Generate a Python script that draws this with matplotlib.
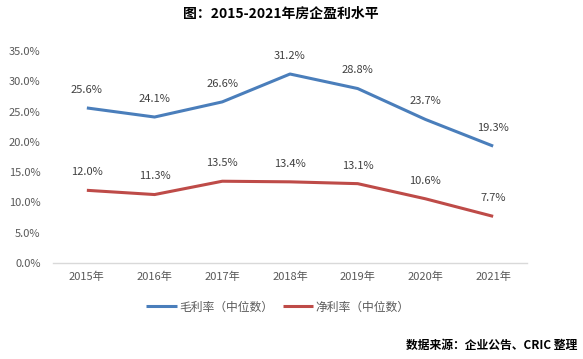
import matplotlib
matplotlib.use('Agg')
import matplotlib.pyplot as plt

plt.rcParams['font.family'] = ['Noto Sans CJK SC', 'DejaVu Sans']

years = ['2015年', '2016年', '2017年', '2018年', '2019年', '2020年', '2021年']
gross = [25.6, 24.1, 26.6, 31.2, 28.8, 23.7, 19.3]  # 毛利率（中位数）
net = [12.0, 11.3, 13.5, 13.4, 13.1, 10.6, 7.7]     # 净利率（中位数）

fig = plt.figure(figsize=(5.83, 3.59), dpi=100)
ax = fig.add_axes([53 / 583, 1 - 263 / 359, 474 / 583, 212 / 359])

x = list(range(len(years)))
ax.plot(x, gross, color='#4A7EBB', lw=2.2, label='毛利率（中位数）', solid_capstyle='butt')
ax.plot(x, net, color='#BE4B48', lw=2.2, label='净利率（中位数）', solid_capstyle='butt')

for xi, v in zip(x, gross):
    ax.annotate(f'{v:.1f}%', (xi, v), xytext=(0, 13), textcoords='offset points',
                ha='center', va='center', fontsize=8, color='#404040')
for xi, v in zip(x, net):
    ax.annotate(f'{v:.1f}%', (xi, v), xytext=(0, 13), textcoords='offset points',
                ha='center', va='center', fontsize=8, color='#404040')

ax.set_xlim(-0.5, 6.5)
ax.set_ylim(0, 35)
ax.set_yticks([0, 5, 10, 15, 20, 25, 30, 35])
ax.set_yticklabels([f'{t:.1f}%' for t in [0, 5, 10, 15, 20, 25, 30, 35]])
ax.set_xticks(x)
ax.set_xticklabels(years)
ax.tick_params(length=0, labelsize=8, colors='#595959')
ax.tick_params(axis='y', pad=9)
ax.tick_params(axis='x', pad=6)
for s in ['top', 'right', 'left']:
    ax.spines[s].set_visible(False)
ax.spines['bottom'].set_color('#D9D9D9')
ax.spines['bottom'].set_linewidth(1)

fig.legend(loc='center', bbox_to_anchor=(278 / 583, 1 - 307 / 359), ncol=2, frameon=False,
           fontsize=8.5, handlelength=2.6, columnspacing=0.8, handletextpad=0.2,
           labelcolor='#595959')

fig.text(281 / 583, 1 - 14 / 359, '图：2015-2021年房企盈利水平', ha='center', va='center',
         fontsize=10, fontweight='bold', color='black')
fig.text(577 / 583, 1 - 345 / 359, '数据来源：企业公告、CRIC 整理', ha='right', va='center',
         fontsize=8.5, fontweight='bold', color='black')

fig.savefig('out.png', dpi=100)
